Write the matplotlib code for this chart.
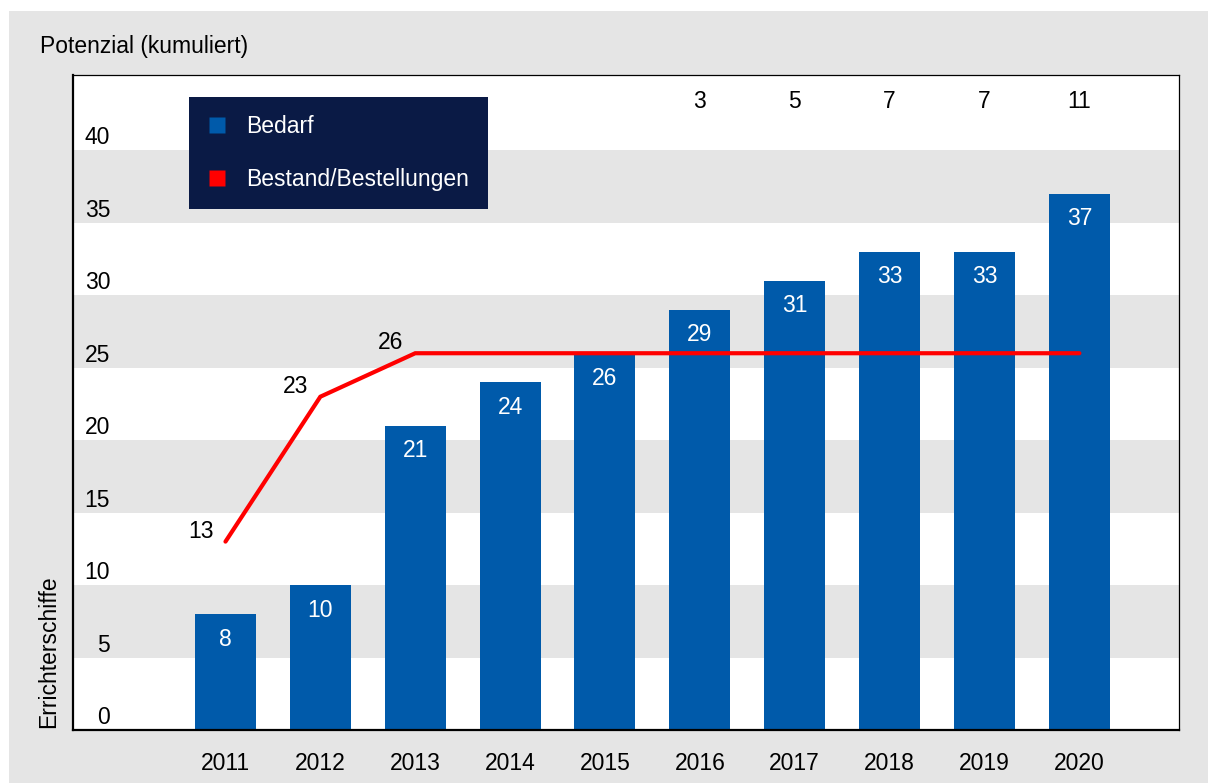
import matplotlib
matplotlib.use("Agg")
import matplotlib.pyplot as plt
from matplotlib.lines import Line2D
from matplotlib.patches import Rectangle

plt.rcParams['font.family'] = ['Liberation Sans', 'DejaVu Sans']

years = ['2011', '2012', '2013', '2014', '2015', '2016', '2017', '2018', '2019', '2020']
bedarf = [8, 10, 21, 24, 26, 29, 31, 33, 33, 37]
bestand = [13, 23, 26, 26, 26, 26, 26, 26, 26, 26]
y_ticks = [0, 5, 10, 15, 20, 25, 30, 35, 40]

blue = '#005aaa'
red = '#ff0000'
navy = '#0a1a45'
band = '#e5e5e5'
fs = 16.5

fig = plt.figure(figsize=(12.08, 7.83), dpi=100)
fig.patch.set_facecolor('white')
# grey panel behind everything
fig.patches.append(Rectangle((9 / 1208, 0), 1, 1 - 11 / 783, transform=fig.transFigure,
                             facecolor=band, edgecolor='none', zorder=-10))

ax = fig.add_axes([73 / 1208, 53 / 783, 1106 / 1208, 655 / 783])
ax.set_facecolor('white')
x = list(range(len(years)))

# alternating horizontal bands
for lo in y_ticks[1::2]:
    ax.axhspan(lo, lo + 5, color=band, lw=0, zorder=0)

bars = ax.bar(x, bedarf, width=0.643, color=blue, zorder=2)
ax.plot(x, bestand, color=red, lw=3, solid_capstyle='round', solid_joinstyle='miter', zorder=3)

for xi, v in zip(x, bedarf):
    ax.annotate(str(v), (xi, v), xytext=(0, -25), textcoords='offset pixels',
                ha='center', va='center', color='white', fontsize=fs, zorder=4)

# labels on the rising part of the line
for xi, v in zip(x[:3], bestand[:3]):
    ax.annotate(str(v), (xi, v), xytext=(-12, 4), textcoords='offset pixels',
                ha='right', va='baseline', color='black', fontsize=fs, zorder=4)

# shortfall above the chart
for xi, b, s in zip(x, bedarf, bestand):
    if b > s:
        ax.text(xi, 43.4, str(b - s), ha='center', va='center', fontsize=fs)

for t in y_ticks:
    ax.annotate(str(t), (-1.215, t), xytext=(0, 6), textcoords='offset pixels',
                ha='right', va='baseline', fontsize=fs)

ax.set_xlim(-1.607, 10.05)
ax.set_ylim(0, 45.2)
ax.set_yticks([])
ax.set_xticks(x)
ax.set_xticklabels(years, fontsize=fs)
ax.tick_params(axis='x', length=0, pad=16)

for side in ['left', 'bottom']:
    ax.spines[side].set_linewidth(1.6)
for side in ['top', 'right']:
    ax.spines[side].set_linewidth(0.9)

handles = [Line2D([], [], ls='none', marker='s', markersize=11.5, markerfacecolor=blue,
                  markeredgecolor='none'),
           Line2D([], [], ls='none', marker='s', markersize=11.5, markerfacecolor=red,
                  markeredgecolor='none')]
leg = ax.legend(handles, ['Bedarf', 'Bestand/Bestellungen'], loc='upper left',
                bbox_to_anchor=(116 / 1106, 1 - 22 / 655), borderaxespad=0,
                frameon=True, fancybox=False, fontsize=fs, labelspacing=1.28,
                borderpad=0.8, handlelength=0.8, handletextpad=0.9)
leg.get_frame().set_facecolor(navy)
leg.get_frame().set_edgecolor('none')
leg.get_frame().set_alpha(1)
for txt in leg.get_texts():
    txt.set_color('white')

fig.text(40 / 1208, 1 - 47 / 783, 'Potenzial (kumuliert)', fontsize=fs, ha='left', va='center')
fig.text(49 / 1208, 55 / 783, 'Errichterschiffe', fontsize=fs, rotation=90,
         ha='center', va='bottom')

fig.savefig('out.png', dpi=100)
